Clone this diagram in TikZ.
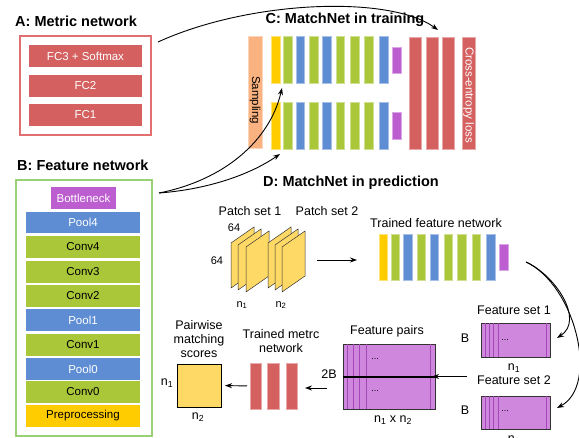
\documentclass[tikz,border=0pt]{standalone}
\usepackage{fontspec}
\setmainfont{Liberation Sans}
\usetikzlibrary{arrows.meta}
\definecolor{mred}{RGB}{212,96,96}
\definecolor{mredl}{RGB}{226,112,112}
\definecolor{gborder}{RGB}{151,210,119}
\definecolor{cpurple}{RGB}{189,94,208}
\definecolor{cblue}{RGB}{94,141,212}
\definecolor{cgreen}{RGB}{170,198,57}
\definecolor{cyellow}{RGB}{255,204,0}
\definecolor{corange}{RGB}{250,178,128}
\definecolor{pyellow}{RGB}{255,217,102}
\definecolor{fpurple}{RGB}{207,135,222}
\definecolor{fline}{RGB}{165,70,185}
\newcommand\rb[7][]{\node[#1, minimum width={(#5)-(#3)}, minimum height={(#6)-(#4)}] (#2) at ({((#3)+(#5))/2},{((#4)+(#6))/2}) {#7};}
\newcommand\patchshape[2]{\draw[patch] (#1,#2) -- (#1,#2-45) -- (#1+23,#2-61) -- (#1+23,#2-16) -- cycle;}
\tikzset{
  blk/.style={inner sep=0pt, outer sep=0pt, font=\fontsize{11.5}{13}\selectfont},
  redbox/.style={blk, fill=mred, text=white},
  bbox/.style={blk, fill=#1},
  bar/.style={inner sep=0pt, outer sep=0pt, fill=#1, draw=#1!55!white, line width=0.7pt},
  ttl/.style={font=\fontsize{14.5}{16}\selectfont\bfseries, inner sep=0pt},
  lbl/.style={font=\fontsize{12.5}{14}\selectfont, inner sep=0pt},
  dotsl/.style={font=\fontsize{9}{10}\selectfont, inner sep=0pt},
  arr/.style={-{Stealth[length=7pt,width=5pt]}, line width=0.9pt},
  patch/.style={fill=pyellow, draw=black!80, line width=0.5pt},
  fset/.style={inner sep=0pt, outer sep=0pt, fill=fpurple, draw=black!80, line width=0.8pt},
}
\begin{document}
\begin{tikzpicture}[x=1pt,y=-1pt]
\useasboundingbox (0,0) rectangle (579,438);
\clip (0,0) rectangle (579,438);
% ---------- A ----------
\node[ttl, anchor=west] (ta) at (15,21) {A: Metric network};
\rb[blk, draw=mredl, line width=2.2pt]{metricbox}{20}{36}{151}{135}{}
\rb[redbox]{fc3}{29}{45}{142}{67}{FC3 + Softmax}
\rb[redbox]{fc2}{29}{75}{142}{97}{FC2}
\rb[redbox]{fc1}{29}{104}{142}{126}{FC1}
% ---------- B ----------
\node[ttl, anchor=west] (tb) at (17,165) {B: Feature network};
\rb[blk, draw=gborder, line width=2pt]{featbox}{16}{180}{152}{436.5}{}
\rb[bbox=cpurple, text=white]{bneck}{51}{187}{116}{209}{Bottleneck}
\rb[bbox=cblue, text=white]{pool4}{26}{212}{140}{233}{Pool4}
\rb[bbox=cgreen]{conv4}{26}{236}{140}{258}{Conv4}
\rb[bbox=cgreen]{conv3}{26}{261}{140}{283}{Conv3}
\rb[bbox=cgreen]{conv2}{26}{285}{140}{307}{Conv2}
\rb[bbox=cblue, text=white]{pool1}{26}{309}{140}{331}{Pool1}
\rb[bbox=cgreen]{conv1}{26}{334}{140}{356}{Conv1}
\rb[bbox=cblue, text=white]{pool0}{26}{358}{140}{380}{Pool0}
\rb[bbox=cgreen]{conv0}{26}{381}{140}{403}{Conv0}
\rb[bbox=cyellow]{prep}{26}{405}{140}{427}{Preprocessing}
% ---------- C ----------
\node[ttl] (tc) at (345,20) {C: MatchNet in training};
\rb[bar=corange]{samp}{248}{36}{262}{148}{}
\node[blk, rotate=-90] (samptxt) at ([yshift=-8pt]samp.center) {Sampling};
\foreach \n/\ya/\yb in {t/36/83, b/102/149}{
  \rb[bar=cyellow]{c\n1}{271}{\ya}{280}{\yb}{}
  \rb[bar=cgreen]{c\n2}{283}{\ya}{292}{\yb}{}
  \rb[bar=cblue]{c\n3}{296}{\ya}{304}{\yb}{}
  \rb[bar=cgreen]{c\n4}{309}{\ya}{318}{\yb}{}
  \rb[bar=cblue]{c\n5}{322}{\ya}{331}{\yb}{}
  \rb[bar=cgreen]{c\n6}{336}{\ya}{344}{\yb}{}
  \rb[bar=cgreen]{c\n7}{350}{\ya}{359}{\yb}{}
  \rb[bar=cgreen]{c\n8}{364}{\ya}{373}{\yb}{}
  \rb[bar=cblue]{c\n9}{379}{\ya}{388}{\yb}{}
}
\rb[bar=cpurple]{ct10}{392}{47}{401}{73}{}
\rb[bar=cpurple]{cb10}{392}{112}{401}{139}{}
\rb[bar=mred]{cr1}{409}{37}{421}{149}{}
\rb[bar=mred]{cr2}{426}{37}{438}{149}{}
\rb[bar=mred]{cr3}{442}{37}{454}{149}{}
\rb[bar=mred]{cel}{462}{37}{475}{149}{}
\node[blk, rotate=-90, text=white] (celtxt) at ([yshift=-2pt]cel.center) {Cross-entropy loss};
% arrows into C
\coordinate (aout) at (158,42);
\coordinate (ain) at (438,30);
\draw[arr] (aout) .. controls (250,0) and (390,-5) .. (ain);
\coordinate (bout) at (159,193);
\coordinate (bin1) at (282,88);
\coordinate (bin2) at (280,154);
\draw[arr] (bout) .. controls (225,180) and (270,140) .. (bin1);
\draw[arr] (bout) .. controls (200,190) and (245,178) .. (bin2);
% ---------- D ----------
\node[ttl] (td) at (351,183) {D: MatchNet in prediction};
\node[lbl] (ps1) at (250,211) {Patch set 1};
\node[lbl] (ps2) at (327,211) {Patch set 2};
\node[lbl] (tfn) at (436,223) {Trained feature network};
\patchshape{231}{288}
\patchshape{238}{290}
\patchshape{246}{292}
\patchshape{268}{288}
\patchshape{275}{290}
\patchshape{282}{292}
\node[font=\fontsize{11}{12}\selectfont, inner sep=0pt] (s64a) at (234,228) {64};
\node[font=\fontsize{11}{12}\selectfont, inner sep=0pt] (s64b) at (217,261) {64};
\node[font=\fontsize{11}{12}\selectfont, inner sep=0pt] (pn1) at (242,305) {n\textsubscript{1}};
\node[font=\fontsize{11}{12}\selectfont, inner sep=0pt] (pn2) at (281,305) {n\textsubscript{2}};
\rb[bar=cyellow]{d1}{379}{234}{387}{280}{}
\rb[bar=cgreen]{d2}{391}{234}{399}{280}{}
\rb[bar=cblue]{d3}{403}{234}{412}{280}{}
\rb[bar=cgreen]{d4}{417}{234}{425}{280}{}
\rb[bar=cblue]{d5}{430}{234}{438}{280}{}
\rb[bar=cgreen]{d6}{444}{234}{452}{280}{}
\rb[bar=cgreen]{d7}{457}{234}{466}{280}{}
\rb[bar=cgreen]{d8}{472}{234}{480}{280}{}
\rb[bar=cblue]{d9}{486}{234}{495}{280}{}
\rb[bar=cpurple]{d10}{499}{244}{508}{270}{}
\coordinate (pout) at (317,260);
\draw[arr] (pout) -- ([xshift=-22pt]d1.west |- pout);
% feature sets
\node[lbl] (fs1t) at (514,310) {Feature set 1};
\rb[fset]{fs1}{481}{323}{550}{357}{}
\node[lbl] (fs1b) at (465,338) {B};
\node[lbl] (fs1n) at (514,368) {n\textsubscript{1}};
\node[lbl] (fs2t) at (514,380) {Feature set 2};
\rb[fset]{fs2}{481}{396}{550}{429}{}
\node[lbl] (fs2b) at (465,410) {B};
\node[lbl] (fs2n) at (514,440) {n\textsubscript{2}};
\foreach \yy/\yz in {323/357, 396/429}{
  \foreach \xx in {485,489,493,498,546}{
    \draw[fline, line width=0.6pt] (\xx,\yy) -- (\xx,\yz);
  }
}
\node[dotsl] (dots1) at (505,340) {...};
\node[dotsl] (dots2) at (505,411) {...};
\coordinate (dout) at (526,262);
\coordinate (din1) at (557,338);
\coordinate (din2) at (557,408);
\draw[arr] (dout) .. controls (555,275) and (585,320) .. (din1);
\draw[arr] (dout) .. controls (575,285) and (600,385) .. (din2);
% feature pairs
\node[lbl] (fpt) at (387,331) {Feature pairs};
\rb[fset]{fp}{343}{344}{435}{409}{}
\foreach \xx in {347,353,359,366,430}{
  \draw[fline, line width=0.6pt] (\xx,344) -- (\xx,409);
}
\draw[black, line width=1.1pt] (fp.west |- 0,377) -- (fp.east |- 0,377);
\node[dotsl] (dots3) at (375,359) {...};
\node[dotsl] (dots4) at (375,391) {...};
\node[lbl] (fpn) at (393,420) {n\textsubscript{1} x n\textsubscript{2}};
\node[lbl] (twob) at (329,374) {2B};
\coordinate (fsa) at (467,376.5);
\draw[arr, shorten >=-3pt] (fsa) -- (fp.east);
% metric
\node[lbl, align=center] (tmn) at (281,341) {Trained metrc\\network};
\rb[bar=mred]{mr1}{250}{363}{261}{409}{}
\rb[bar=mred]{mr2}{267}{363}{279}{409}{}
\rb[bar=mred]{mr3}{286}{363}{297}{409}{}
\coordinate (fpo) at (327,388);
\draw[arr] (fpo) -- ([xshift=8pt]mr3.east |- fpo);
% scores
\node[lbl, align=center] (pms) at (199,339) {Pairwise\\matching\\scores};
\rb[blk, fill=pyellow, draw=black, line width=0.8pt]{sc}{177}{364}{221}{407}{}
\node[lbl] (scn1) at (167,383) {n\textsubscript{1}};
\node[lbl] (scn2) at (198,417) {n\textsubscript{2}};
\draw[arr, shorten <=3pt, shorten >=4pt] (mr1.west) -- (sc.east);
\end{tikzpicture}
\end{document}
